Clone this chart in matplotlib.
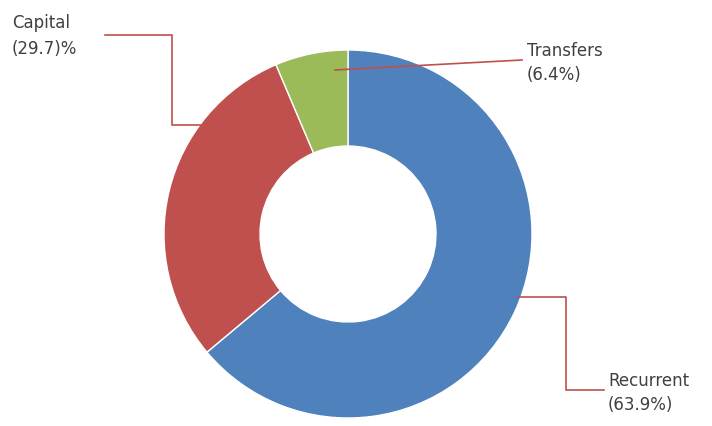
import matplotlib.pyplot as plt

labels = ["Recurrent", "Capital", "Transfers"]
shares = [63.9, 29.7, 6.4]
label_texts = ["Recurrent\n(63.9%)", "Capital\n(29.7)%", "Transfers\n(6.4%)"]
colors = ["#4f81bd", "#c0504d", "#9bbb59"]

W, H = 712, 426
fig = plt.figure(figsize=(W / 100, H / 100), dpi=100)
ax = fig.add_axes([0, 0, 1, 1])
ax.set_xlim(0, W)
ax.set_ylim(0, H)
ax.set_aspect("equal")
ax.axis("off")

cx, cy, r = 348, H - 234, 184
ax.pie(shares, colors=colors, startangle=90, counterclock=False,
       center=(cx, cy), radius=r, frame=True,
       wedgeprops=dict(width=r - 88, edgecolor="white", linewidth=1))
ax.set_xlim(0, W)
ax.set_ylim(0, H)
ax.axis("off")

line_color = "#c0504d"
def leader(xs, ys):
    ax.plot(xs, [H - y for y in ys], color=line_color, lw=1.2)

leader([105, 172, 172, 208], [35, 35, 125, 125])
leader([335, 522], [70, 60])
leader([518, 566, 566, 604], [297, 297, 390, 390])

font = dict(fontsize=12, color="#404040", va="center", ha="left", linespacing=1.5)
ax.text(12, H - 36, label_texts[1], **font)
ax.text(527, H - 63, label_texts[2], **font)
ax.text(608, H - 393, label_texts[0], **font)

fig.savefig("out.png", dpi=100, facecolor="white")
